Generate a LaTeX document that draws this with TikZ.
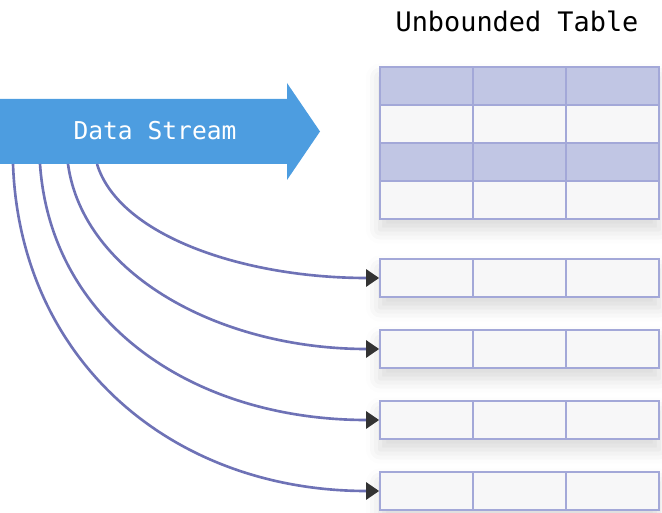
\documentclass[tikz,border=0pt]{standalone}
\usepackage{fontspec}
\setmonofont{DejaVu Sans Mono}
\usepackage{xcolor}
\definecolor{streamblue}{RGB}{77, 157, 224}
\definecolor{rowshade}{RGB}{193, 198, 228}
\definecolor{cellfill}{RGB}{247, 247, 248}
\definecolor{cellrule}{RGB}{163, 168, 216}
\definecolor{flowline}{RGB}{110, 114, 182}
\definecolor{tipgray}{RGB}{51, 51, 51}
\usepackage{tikz}
\usetikzlibrary{arrows.meta, positioning, calc, shadows, shadows.blur}

\begin{document}
\begin{tikzpicture}[x=0.02cm, y=-0.02cm,
      rowbox/.style={rectangle, draw=cellrule, line width=1pt, fill=cellfill, minimum width=5.58cm, minimum height=0.76cm, inner sep=0pt,
        path picture={\foreach \f in {1/3, 2/3} \draw[cellrule, line width=1pt] ($(path picture bounding box.north west)!\f!(path picture bounding box.north east)$) -- ($(path picture bounding box.south west)!\f!(path picture bounding box.south east)$);}},
      rowshaded/.style={rowbox, fill=rowshade},
      soft/.style={blur shadow={shadow xshift=0pt, shadow yshift=-6pt, shadow blur radius=8pt, shadow opacity=15}},
      streamtext/.style={text=white, font=\ttfamily\fontsize{14}{16}\selectfont},
      titletext/.style={text=black, font=\ttfamily\fontsize{15.3}{18}\selectfont},
      flow/.style={-{Triangle[length=0.26cm, width=0.34cm, color=tipgray]}, line width=1.5pt, flowline}
  ]
    \useasboundingbox (0,0) rectangle (662,513);

    % Data stream arrow
    \fill[streamblue] (0,99) -- (287,99) -- (287,83) -- (320,131.5) -- (287,180) -- (287,164) -- (0,164) -- cycle;
    \node[streamtext] (stream) at (155,131) {Data Stream};
    \coordinate (f1) at (97,164); \coordinate (f2) at (68,164);
    \coordinate (f3) at (40,164); \coordinate (f4) at (13,164);

    % Unbounded table
    \node[titletext] (title) at (517,21) {Unbounded Table};
    \node[rectangle, fill=cellfill, soft, minimum width=5.58cm, minimum height=3.04cm, inner sep=0pt] (tbl) at (519.5,143) {};
    \node[rowshaded] (t1) at (519.5,86) {};
    \node[rowbox] (t2) at (519.5,124) {};
    \node[rowshaded] (t3) at (519.5,162) {};
    \node[rowbox] (t4) at (519.5,200) {};

    % New rows
    \node[rowbox, soft] (r1) at (519.5,278) {};
    \node[rowbox, soft] (r2) at (519.5,349) {};
    \node[rowbox, soft] (r3) at (519.5,420) {};
    \node[rowbox, soft] (r4) at (519.5,491) {};

    % Connections
    \draw[flow] (f1) .. controls +(22,72) and +(-135,0) .. (r1.west);
    \draw[flow] (f2) .. controls +(15,110) and +(-160,0) .. (r2.west);
    \draw[flow] (f3) .. controls +(11,160) and +(-185,0) .. (r3.west);
    \draw[flow] (f4) .. controls +(7,196) and +(-208,0) .. (r4.west);
  \end{tikzpicture}
\end{document}
